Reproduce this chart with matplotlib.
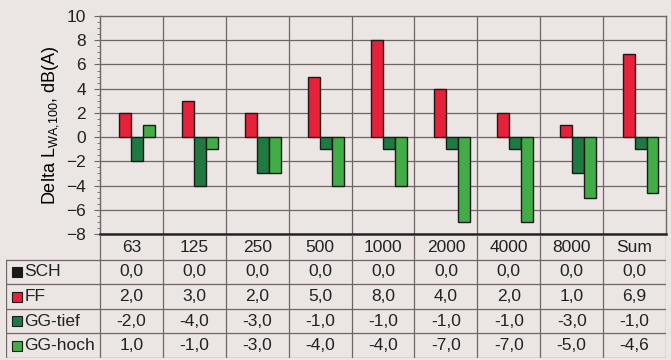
import numpy as np
import matplotlib
matplotlib.use('Agg')
import matplotlib.pyplot as plt
from matplotlib.ticker import MultipleLocator

# Daten
categories = ['63', '125', '250', '500', '1000', '2000', '4000', '8000', 'Sum']
series_names = ['SCH', 'FF', 'GG-tief', 'GG-hoch']
sch = [0.0, 0.0, 0.0, 0.0, 0.0, 0.0, 0.0, 0.0, 0.0]
ff = [2.0, 3.0, 2.0, 5.0, 8.0, 4.0, 2.0, 1.0, 6.9]
gg_tief = [-2.0, -4.0, -3.0, -1.0, -1.0, -1.0, -1.0, -3.0, -1.0]
gg_hoch = [1.0, -1.0, -3.0, -4.0, -4.0, -7.0, -7.0, -5.0, -4.6]
colors = ['#1a1a1a', '#e8213b', '#1f7a41', '#42ad46']

plt.rcParams['font.family'] = ['Liberation Sans', 'DejaVu Sans']
plt.rcParams['mathtext.default'] = 'regular'
plt.rcParams['text.color'] = '#222222'

bg = '#ebe5e3'
grid_c = '#706466'
W, H = 671, 360
fs = 12.5

fig = plt.figure(figsize=(W / 100, H / 100), dpi=100, facecolor=bg)

# Diagramm
ax = fig.add_axes([100 / W, 1 - 234 / H, 566 / W, 218 / H])
ax.set_facecolor(bg)
x = np.arange(len(categories))
w = 0.19
all_series = [sch, ff, gg_tief, gg_hoch]
for i, vals in enumerate(all_series):
    lws = [1.0 if v != 0 else 0 for v in vals]
    ax.bar(x + (i - 1.5) * w, vals, width=w, color=colors[i],
           edgecolor='#1a1a1a', linewidth=lws, zorder=3)

ax.set_xlim(-0.5, len(categories) - 0.5)
ax.set_ylim(-8, 10)
ax.set_yticks(np.arange(-8, 11, 2))
ax.yaxis.set_minor_locator(MultipleLocator(0.5))
ax.tick_params(axis='y', which='major', length=4, color=grid_c, labelsize=fs,
               labelcolor='#222222', pad=6)
ax.tick_params(axis='y', which='minor', length=2, color=grid_c)
ax.set_xticks([])
for yv in np.arange(-6, 10, 2):
    ax.axhline(yv, color=grid_c, linewidth=0.9, zorder=1)
for xv in np.arange(0.5, len(categories) - 0.5, 1):
    ax.axvline(xv, color=grid_c, linewidth=0.9, zorder=1)
for s in ['top', 'left', 'right']:
    ax.spines[s].set_color(grid_c)
    ax.spines[s].set_linewidth(1.0)
ax.spines['bottom'].set_color('#222222')
ax.spines['bottom'].set_linewidth(1.8)
ax.set_ylabel(r'Delta L$_{WA{,}100}$, dB(A)', fontsize=13, labelpad=4)

# Tabelle
left = -0.5 - 94 / 62.9
tab = fig.add_axes([6 / W, 1 - 358 / H, 660 / W, 123 / H])
tab.set_xlim(left, len(categories) - 0.5)
tab.set_ylim(5, 0)
tab.axis('off')
lw = 0.9
for yv in range(1, 6):
    tab.plot([left, len(categories) - 0.5], [yv, yv], color=grid_c, linewidth=lw)
for k in range(len(categories) + 1):
    tab.plot([k - 0.5, k - 0.5], [0, 5], color=grid_c, linewidth=lw)
tab.plot([left, left], [1, 5], color=grid_c, linewidth=lw)

for j, c in enumerate(categories):
    tab.text(j, 0.5, c, ha='center', va='center', fontsize=fs)

for i, (name, vals) in enumerate(zip(series_names, all_series)):
    yrow = i + 1.5
    tab.plot(left + 0.17, yrow, marker='s', markersize=6.5, color=colors[i],
             markeredgecolor='#1a1a1a', markeredgewidth=0.8)
    tab.text(left + 0.29, yrow, name, ha='left', va='center', fontsize=fs)
    for j, v in enumerate(vals):
        tab.text(j, yrow, f'{v:.1f}'.replace('.', ','), ha='center', va='center', fontsize=fs)

fig.savefig('out.png', dpi=100, facecolor=bg)
